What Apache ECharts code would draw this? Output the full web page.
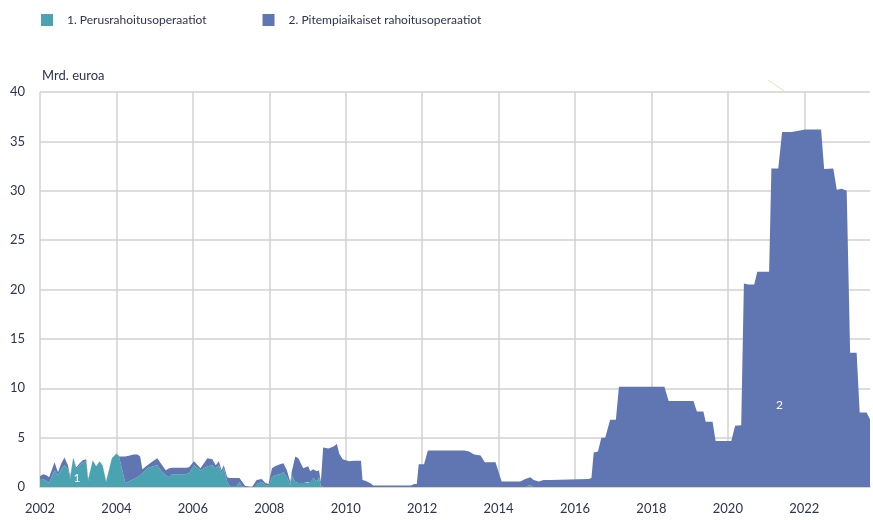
<!DOCTYPE html>
<html>
<head>
<meta charset="utf-8">
<script src="https://cdn.jsdelivr.net/npm/echarts@6/dist/echarts.min.js"></script>
<style>
  html, body { margin: 0; padding: 0; background: #fff; }
  #chart { width: 873px; height: 520px; }
</style>
</head>
<body>
<div id="chart"></div>
<script>
// Ajankohdat desimaalivuosina (kuukausitarkkuus, luettu kuvasta)
const years = [
  2002.00, 2002.08, 2002.17, 2002.24, 2002.38, 2002.47, 2002.56, 2002.64, 2002.73, 2002.79,
  2002.87, 2002.95, 2003.04, 2003.12, 2003.21, 2003.26, 2003.38, 2003.47, 2003.56, 2003.64,
  2003.73, 2003.88, 2004.00, 2004.08, 2004.23, 2004.35, 2004.45, 2004.55, 2004.62, 2004.68,
  2004.81, 2004.95, 2005.07, 2005.16, 2005.29, 2005.38, 2005.46, 2005.81, 2005.90, 2006.03,
  2006.20, 2006.38, 2006.51, 2006.60, 2006.68, 2006.75, 2006.81, 2006.90, 2006.96, 2007.15,
  2007.22, 2007.27, 2007.37, 2007.55, 2007.60, 2007.67, 2007.80, 2007.90, 2007.98, 2008.07,
  2008.15, 2008.28, 2008.37, 2008.46, 2008.55, 2008.59, 2008.68, 2008.76, 2008.89, 2009.02,
  2009.07, 2009.15, 2009.24, 2009.30, 2009.35, 2009.41, 2009.55, 2009.68, 2009.72, 2009.77,
  2009.83, 2009.92, 2010.09, 2010.22, 2010.40, 2010.44, 2010.53, 2010.66, 2010.72, 2011.71,
  2011.79, 2011.86, 2011.91, 2012.05, 2012.15, 2013.10, 2013.23, 2013.36, 2013.53, 2013.64,
  2013.92, 2014.08, 2014.57, 2014.70, 2014.83, 2014.92, 2015.05, 2015.18, 2015.36, 2015.40,
  2016.36, 2016.43, 2016.49, 2016.60, 2016.69, 2016.79, 2016.92, 2017.07, 2017.15, 2018.34,
  2018.45, 2019.10, 2019.19, 2019.36, 2019.42, 2019.60, 2019.68, 2020.09, 2020.19, 2020.35,
  2020.42, 2020.53, 2020.69, 2020.77, 2021.08, 2021.14, 2021.32, 2021.42, 2021.67, 2021.89,
  2022.02, 2022.44, 2022.52, 2022.76, 2022.85, 2022.98, 2023.11, 2023.20, 2023.37, 2023.45,
  2023.63, 2023.74, 2023.80
]

// 1. Perusrahoitusoperaatiot, mrd. euroa
const basicOps = [
  0.8, 0.8, 0.6, 0.4, 1.7, 1.2, 1.8, 2.2, 1.8, 0.8,
  3.0, 1.8, 2.2, 2.5, 2.6, 0.6, 2.7, 2.1, 2.6, 2.1,
  0.5, 2.9, 3.4, 2.9, 0.4, 0.6, 0.8, 1.0, 1.2, 1.4,
  1.9, 2.1, 2.2, 1.7, 1.2, 1.0, 1.3, 1.3, 1.4, 2.2,
  1.7, 2.1, 2.2, 1.9, 2.2, 1.4, 1.9, 0.5, 0.1, 0.1,
  0.5, 0.1, 0, 0, 0, 0.3, 0.5, 0.2, 0.1, 1.0,
  1.2, 1.3, 1.5, 1.0, 0.2, 1.2, 0.5, 0.4, 0.4, 0.4,
  0.5, 0.9, 0.5, 1.0, 0.1, 0, 0, 0, 0.2, 0,
  0, 0, 0, 0, 0, 0, 0, 0, 0, 0,
  0, 0, 0, 0, 0, 0, 0, 0, 0, 0,
  0, 0, 0, 0, 0.2, 0, 0, 0, 0, 0,
  0, 0, 0, 0, 0, 0, 0, 0, 0, 0,
  0, 0, 0, 0, 0, 0, 0, 0, 0, 0,
  0, 0, 0, 0, 0, 0, 0, 0, 0, 0,
  0, 0, 0, 0, 0, 0, 0, 0, 0, 0,
  0, 0, 0
]

// 2. Pitempiaikaiset rahoitusoperaatiot, mrd. euroa
const longerOps = [
  0.3, 0.5, 0.6, 0.6, 0.8, 0.3, 0.6, 0.8, 0.4, 0.3,
  0, 0.2, 0.2, 0.2, 0.2, 0.2, 0, 0, 0, 0.1,
  0.1, 0, 0, 0.2, 2.7, 2.6, 2.5, 2.3, 1.9, 0.4,
  0.3, 0.5, 0.7, 0.7, 0.5, 0.9, 0.65, 0.65, 0.6, 0.4,
  0.2, 0.8, 0.6, 0.3, 0.4, 0.3, 0.3, 0.5, 0.8, 0.8,
  0.4, 0.8, 0.1, 0, 0.3, 0.4, 0.3, 0.2, 0.2, 0.9,
  0.9, 1.0, 0.9, 0.7, 0.3, 0.4, 2.6, 2.5, 1.5, 1.7,
  1.1, 0.9, 1.1, 0.7, 0.4, 4.0, 3.9, 4.1, 4.0, 4.35,
  3.4, 2.8, 2.6, 2.65, 2.65, 0.7, 0.6, 0.35, 0.15, 0.15,
  0.3, 0.3, 2.3, 2.3, 3.7, 3.7, 3.6, 3.3, 3.2, 2.5,
  2.5, 0.55, 0.55, 0.8, 0.8, 0.7, 0.55, 0.7, 0.7, 0.8,
  0.8, 0.9, 3.5, 3.6, 5.0, 5.0, 6.8, 6.8, 10.15, 10.15,
  8.7, 8.7, 7.65, 7.65, 6.6, 6.6, 4.65, 4.65, 6.2, 6.25,
  20.6, 20.5, 20.5, 21.8, 21.8, 32.25, 32.25, 35.95, 35.95, 36.1,
  36.2, 36.2, 32.2, 32.25, 30.1, 30.2, 30.0, 13.6, 13.6, 7.55,
  7.55, 6.7, 6.7
]

const seriesNames = ['1. Perusrahoitusoperaatiot', '2. Pitempiaikaiset rahoitusoperaatiot']
const colors = ['#4aa3b0', '#6076b2']
const textColor = '#2d3350'
const gridColor = '#d2d2d2'

const chart = echarts.init(document.getElementById('chart'))

// arvo ensin, jotta pinoaminen tehdään y-ulottuvuudelle
function toPoints(values) {
  return years.map((y, i) => [values[i], y])
}

function areaSeries(idx, values, tag, tagAt) {
  return {
    name: seriesNames[idx],
    type: 'line',
    stack: 'total',
    encode: { x: 1, y: 0 },
    showSymbol: false,
    lineStyle: { width: 0 },
    areaStyle: { color: colors[idx], opacity: 1 },
    data: toPoints(values),
    markPoint: {
      symbol: 'circle',
      symbolSize: 0,
      label: { show: true, position: 'inside', color: '#ffffff', fontSize: 12, formatter: tag },
      data: [{ coord: tagAt }],
    },
  }
}

const option = {
  animation: false,
  textStyle: { fontFamily: 'Lato' },
  color: colors,
  legend: {
    left: 36,
    top: 9,
    itemWidth: 12,
    itemHeight: 12,
    itemGap: 56,
    icon: 'rect',
    textStyle: { fontSize: 12, color: textColor, padding: [0, 0, 0, 9] },
    data: seriesNames,
  },
  grid: {
    left: 40,
    right: 0,
    top: 92,
    bottom: 33,
  },
  // haalea viiva kuvan yläosassa
  graphic: [{
    type: 'line',
    shape: { x1: 768, y1: 80, x2: 784, y2: 91 },
    style: { stroke: '#f1dcbc', lineWidth: 1 },
  }],
  xAxis: {
    type: 'value',
    min: 2002,
    max: 2023.72,
    interval: 2,
    axisLine: { show: true, lineStyle: { color: gridColor, width: 1.5 } },
    axisTick: { show: false },
    axisLabel: {
      color: textColor,
      fontSize: 13,
      margin: 15,
      formatter: (v) => (v % 2 === 0 ? String(v) : ''),
    },
    splitLine: { show: true, showMaxLine: false, lineStyle: { color: gridColor, width: 1.5 } },
  },
  yAxis: {
    type: 'value',
    min: 0,
    max: 40,
    interval: 5,
    name: 'Mrd. euroa',
    nameGap: 10,
    nameTextStyle: { color: textColor, fontSize: 13, align: 'left', padding: [0, 0, 0, 2] },
    axisLine: { show: false },
    axisTick: { show: false },
    axisLabel: { color: textColor, fontSize: 13, margin: 15 },
    splitLine: { lineStyle: { color: gridColor, width: 1.5 } },
  },
  series: [
    areaSeries(0, basicOps, '1', [2002.97, 0.9]),
    areaSeries(1, longerOps, '2', [2021.35, 8.3]),
  ],
}

chart.setOption(option)
</script>
</body>
</html>
